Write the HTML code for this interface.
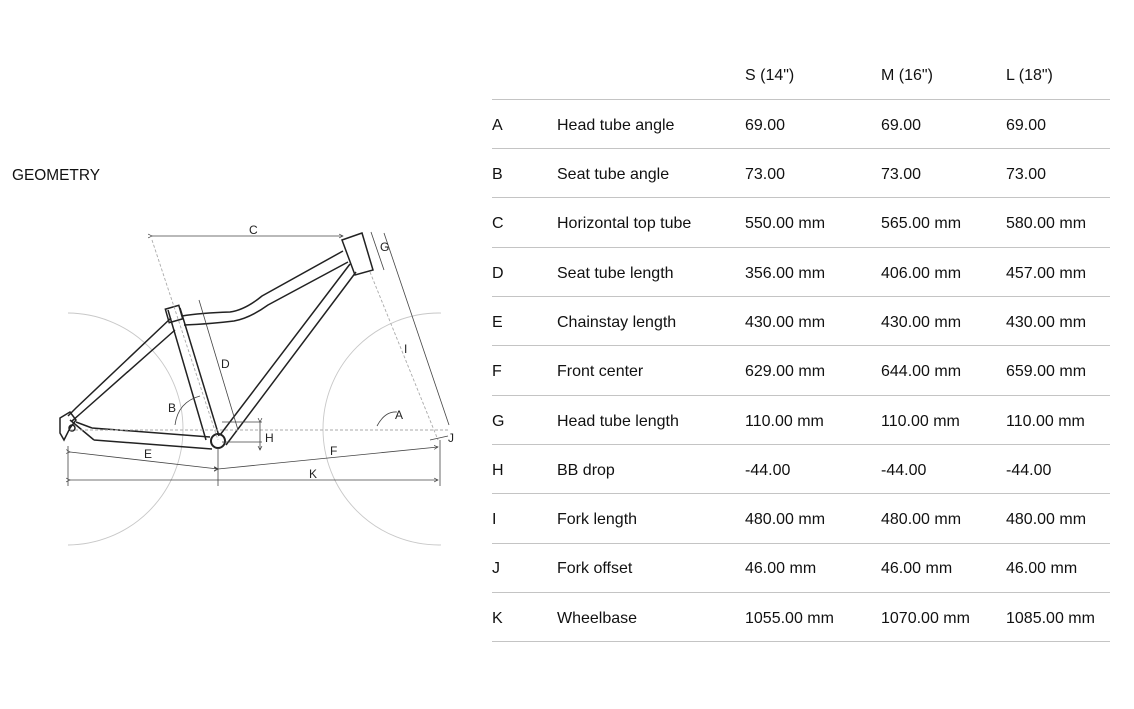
<!DOCTYPE html>
<html><head><meta charset="utf-8"><style>
html,body{margin:0;padding:0;background:#fff;}
body{width:1134px;height:709px;overflow:hidden;position:relative;font-family:"Liberation Sans",sans-serif;color:#222;}
</style></head><body>
<svg width="1134" height="709" viewBox="0 0 1134 709" style="position:absolute;left:0;top:0">
<defs>
<clipPath id="cl"><rect x="68" y="200" width="373" height="360"/></clipPath>
<marker id="ar" markerWidth="6" markerHeight="6" refX="5" refY="3" orient="auto"><path d="M0,0.5 L5,3 L0,5.5" fill="none" stroke="#333" stroke-width="0.8"/></marker>
</defs>
<text x="12" y="180" font-size="16" fill="#111" font-family="Liberation Sans, sans-serif" textLength="88" lengthAdjust="spacingAndGlyphs">GEOMETRY</text>
<g clip-path="url(#cl)" fill="none" stroke="#c8c8c8" stroke-width="0.9">
<circle cx="67" cy="429" r="116"/>
<circle cx="439" cy="429" r="116"/>
</g>
<g fill="none" stroke="#222" stroke-width="1.5">
<path d="M168,310 L206,440 M180,308 L219,436"/>
<rect x="167" y="307" width="14" height="14" transform="rotate(-16 174 314)"/>
<path d="M182,316 Q200,313 230,312 Q245,310 262,296 L343,251 M184,325 Q210,324 234,321 Q250,318 268,305 L348,262"/>
<polygon points="342,240 362,233 373,270 355,275"/>
<path d="M350,264 L220,435 M356,272 L226,445"/>
<path d="M171,318 L76,408 L68,416 M175,330 L80,414 L72,421"/>
<path d="M92,428 L210,437 M94,440 L212,449 M70,420 L94,440 M76,422 L92,428"/>
<path d="M60,418 L70,412 L76,420 L70,428 L64,440 L60,433 Z"/>
<circle cx="72" cy="428" r="3"/>
<circle cx="218" cy="441" r="7" stroke-width="2"/>
</g>
<g fill="none" stroke="#aaa" stroke-width="0.9" stroke-dasharray="3,2">
<path d="M70,430 L450,430"/>
<path d="M152,240 L218,440"/>
<path d="M370,272 L438,440"/>
</g>
<g fill="none" stroke="#444" stroke-width="0.8">
<path d="M152,236 L343,236" marker-start="url(#ar)" marker-end="url(#ar)"/>
<path d="M199,300 L238,430"/>
<path d="M371,232 L384,270" />
<path d="M384,233 L449,425" />
<path d="M260,422 L260,450" marker-start="url(#ar)" marker-end="url(#ar)"/>
<path d="M222,442 L262,442 M222,422 L262,422"/>
<path d="M70,452 L218,469" marker-start="url(#ar)" marker-end="url(#ar)"/>
<path d="M218,469 L438,447" marker-start="url(#ar)" marker-end="url(#ar)"/>
<path d="M70,480 L438,480" marker-start="url(#ar)" marker-end="url(#ar)"/>
<path d="M68,446 L68,486 M218,448 L218,486 M440,440 L440,486"/>
<path d="M377,426 Q385,411 397,412"/>
<path d="M175,425 Q178,402 200,396"/>
<path d="M430,440 L448,436"/>
</g>
<g font-size="12" fill="#222">
<text x="249" y="234">C</text>
<text x="221" y="368">D</text>
<text x="380" y="251">G</text>
<text x="404" y="353">I</text>
<text x="395" y="419">A</text>
<text x="168" y="412">B</text>
<text x="265" y="442">H</text>
<text x="144" y="458">E</text>
<text x="330" y="455">F</text>
<text x="309" y="478">K</text>
<text x="448" y="442">J</text>
</g>
<g stroke="#c4c4c4" stroke-width="1">
<line x1="492" y1="99.5" x2="1110" y2="99.5"/>
<line x1="492" y1="148.5" x2="1110" y2="148.5"/>
<line x1="492" y1="197.5" x2="1110" y2="197.5"/>
<line x1="492" y1="247.5" x2="1110" y2="247.5"/>
<line x1="492" y1="296.5" x2="1110" y2="296.5"/>
<line x1="492" y1="345.5" x2="1110" y2="345.5"/>
<line x1="492" y1="395.5" x2="1110" y2="395.5"/>
<line x1="492" y1="444.5" x2="1110" y2="444.5"/>
<line x1="492" y1="493.5" x2="1110" y2="493.5"/>
<line x1="492" y1="543.5" x2="1110" y2="543.5"/>
<line x1="492" y1="592.5" x2="1110" y2="592.5"/>
<line x1="492" y1="641.5" x2="1110" y2="641.5"/>
</g>
<g font-size="16" fill="#111">
<text x="745" y="80">S (14")</text><text x="881" y="80">M (16")</text><text x="1006" y="80">L (18")</text>
<text x="492" y="130">A</text><text x="557" y="130">Head tube angle</text><text x="745" y="130">69.00</text><text x="881" y="130">69.00</text><text x="1006" y="130">69.00</text>
<text x="492" y="179">B</text><text x="557" y="179">Seat tube angle</text><text x="745" y="179">73.00</text><text x="881" y="179">73.00</text><text x="1006" y="179">73.00</text>
<text x="492" y="228">C</text><text x="557" y="228">Horizontal top tube</text><text x="745" y="228">550.00 mm</text><text x="881" y="228">565.00 mm</text><text x="1006" y="228">580.00 mm</text>
<text x="492" y="278">D</text><text x="557" y="278">Seat tube length</text><text x="745" y="278">356.00 mm</text><text x="881" y="278">406.00 mm</text><text x="1006" y="278">457.00 mm</text>
<text x="492" y="327">E</text><text x="557" y="327">Chainstay length</text><text x="745" y="327">430.00 mm</text><text x="881" y="327">430.00 mm</text><text x="1006" y="327">430.00 mm</text>
<text x="492" y="376">F</text><text x="557" y="376">Front center</text><text x="745" y="376">629.00 mm</text><text x="881" y="376">644.00 mm</text><text x="1006" y="376">659.00 mm</text>
<text x="492" y="426">G</text><text x="557" y="426">Head tube length</text><text x="745" y="426">110.00 mm</text><text x="881" y="426">110.00 mm</text><text x="1006" y="426">110.00 mm</text>
<text x="492" y="475">H</text><text x="557" y="475">BB drop</text><text x="745" y="475">-44.00</text><text x="881" y="475">-44.00</text><text x="1006" y="475">-44.00</text>
<text x="492" y="524">I</text><text x="557" y="524">Fork length</text><text x="745" y="524">480.00 mm</text><text x="881" y="524">480.00 mm</text><text x="1006" y="524">480.00 mm</text>
<text x="492" y="573">J</text><text x="557" y="573">Fork offset</text><text x="745" y="573">46.00 mm</text><text x="881" y="573">46.00 mm</text><text x="1006" y="573">46.00 mm</text>
<text x="492" y="623">K</text><text x="557" y="623">Wheelbase</text><text x="745" y="623">1055.00 mm</text><text x="881" y="623">1070.00 mm</text><text x="1006" y="623">1085.00 mm</text>
</g>
</svg>
</body></html>
